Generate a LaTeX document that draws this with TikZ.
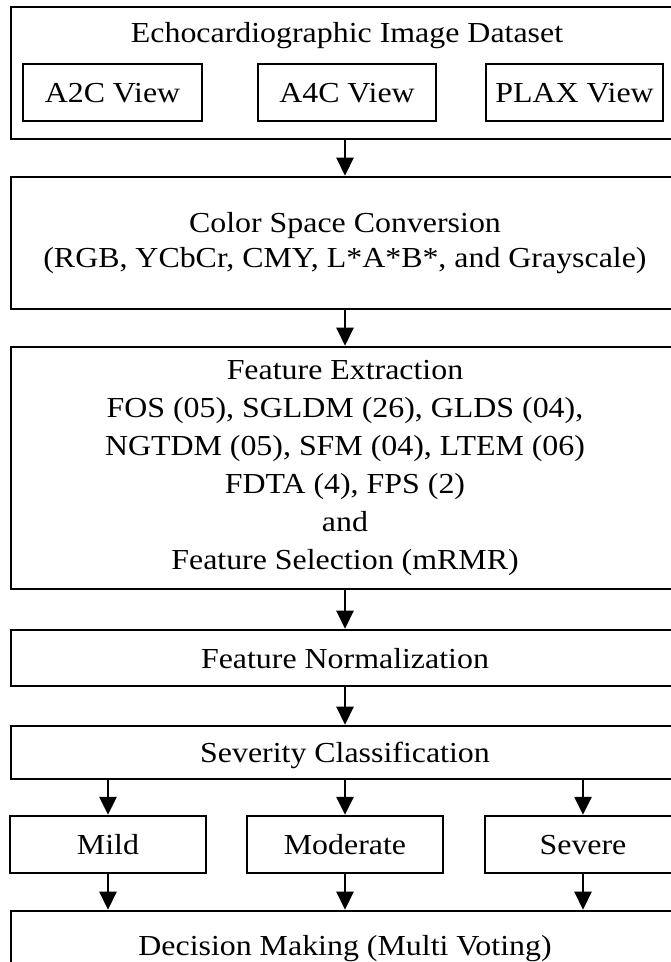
\documentclass[tikz,border=0pt]{standalone}
\usepackage{fontspec}
\setmainfont{Liberation Serif}[FakeStretch=1.1]
\usetikzlibrary{arrows.meta}
\tikzset{stagebox/.style={draw,line width=2.6pt,minimum width=668pt,inner sep=0pt,align=center,font=\fontsize{29}{35}\selectfont},
oneline/.style={text height=20pt,text depth=0pt},
viewbox/.style={draw,line width=2.4pt,minimum height=57pt,inner sep=0pt,text height=19pt,text depth=0pt,font=\fontsize{29}{34}\selectfont},
gradebox/.style={draw,line width=2.4pt,minimum width=196pt,minimum height=57pt,inner sep=0pt,text height=20pt,text depth=0pt,font=\fontsize{29}{34}\selectfont},
titletext/.style={inner sep=0pt,font=\fontsize{29}{34}\selectfont},
flowarrow/.style={line width=2.5pt,-{Triangle[length=18pt,width=17pt]}}}

\begin{document}
\begin{tikzpicture}[x=1pt,y=1pt]
\useasboundingbox (0,0) rectangle (671,-962);
\clip (0,0) rectangle (671,-962);
% dataset and its views
\node[stagebox,minimum height=132pt] (dataset) at (345,-73) {};
\node[titletext,anchor=base] (datasettitle) at (347,-42) {Echocardiographic Image Dataset};
\node[viewbox,minimum width=179pt] (atwo) at (112.5,-92.5) {A2C View};
\node[viewbox,minimum width=178pt] (afour) at (347,-92.5) {A4C View};
\node[viewbox,minimum width=177pt] (plax) at (574.5,-92.5) {PLAX View};
% pipeline stages
\node[stagebox,minimum height=132pt] (colorspace) at (345,-243) {Color Space Conversion\\(RGB, YCbCr, CMY, L*A*B*, and Grayscale)};
\node[stagebox,minimum height=242pt,font=\fontsize{29}{38}\selectfont] (features) at (345,-468) {Feature Extraction\\FOS (05), SGLDM (26), GLDS (04),\\NGTDM (05), SFM (04), LTEM (06)\\FDTA (4), FPS (2)\\and\\Feature Selection (mRMR)};
\node[stagebox,oneline,minimum height=56pt] (normalize) at (345,-658) {Feature Normalization};
\node[stagebox,oneline,minimum height=53pt] (classify) at (345,-752.5) {Severity Classification};
% severity grades
\node[gradebox] (mild) at (108,-844.5) {Mild};
\node[gradebox] (moderate) at (345,-844.5) {Moderate};
\node[gradebox] (severe) at (583,-844.5) {Severe};
\node[stagebox,oneline,minimum height=68pt] (decision) at (345,-945) {Decision Making (Multi Voting)};
% connectors
\draw[flowarrow] (dataset) -- (colorspace);
\draw[flowarrow] (colorspace) -- (features);
\draw[flowarrow] (features) -- (normalize);
\draw[flowarrow] (normalize) -- (classify);
\foreach \grade in {mild,moderate,severe}{
  \draw[flowarrow] (classify.south -| \grade) -- (\grade);
  \draw[flowarrow] (\grade) -- (\grade |- decision.north);
}
\end{tikzpicture}
\end{document}
